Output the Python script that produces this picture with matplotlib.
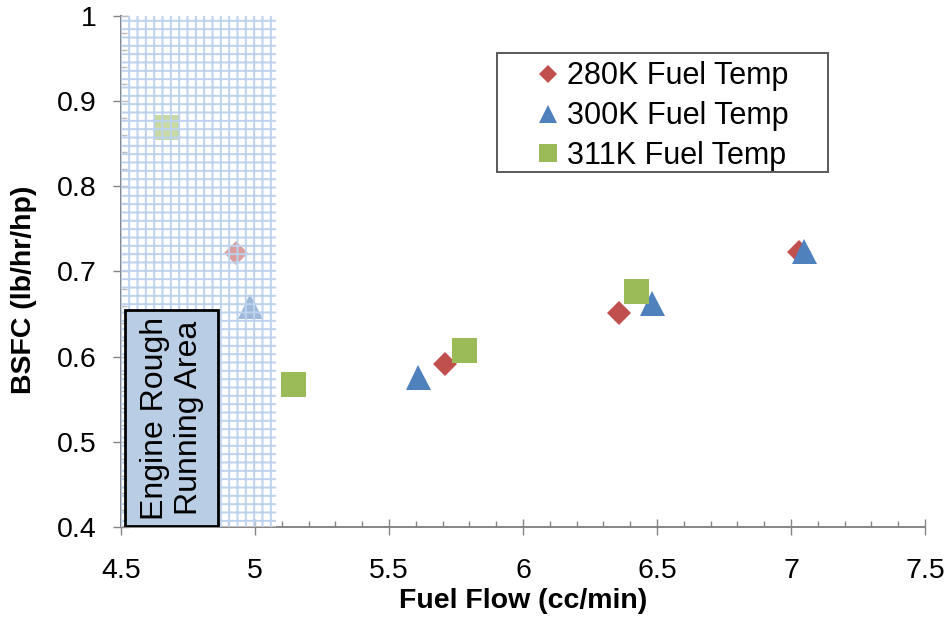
"""
BSFC against fuel flow for three fuel temperatures.
"""

import matplotlib
matplotlib.use("Agg")
import matplotlib.pyplot as plt
from matplotlib.patches import Rectangle
from matplotlib.ticker import MultipleLocator

plt.rcParams["font.family"] = ["Liberation Sans", "DejaVu Sans"]
plt.rcParams["hatch.linewidth"] = 1.4

# fuel flow (cc/min) and BSFC (lb/hr/hp) for each fuel temperature
flow_280 = [4.93, 5.71, 6.36, 7.03]
bsfc_280 = [0.722, 0.591, 0.651, 0.723]
flow_300 = [4.98, 5.61, 6.48, 7.05]
bsfc_300 = [0.660, 0.576, 0.663, 0.724]
flow_311 = [4.67, 5.14, 5.78, 6.42]
bsfc_311 = [0.870, 0.568, 0.608, 0.677]

series_labels = ["280K Fuel Temp", "300K Fuel Temp", "311K Fuel Temp"]

# rough running zone (upper fuel flow limit)
rough_limit = 5.08

red = "#C0504D"
blue = "#4F81BD"
green = "#9BBB59"
axis_gray = "#868686"

fig = plt.figure(figsize=(9.51, 6.19), dpi=100)
ax = fig.add_axes([0.1272, 0.1486, 0.8455, 0.8256])

ax.plot(flow_280, bsfc_280, "D", color=red, markersize=12.5,
        markeredgewidth=0, label=series_labels[0], zorder=3)
ax.plot(flow_300, bsfc_300, "^", color=blue, markersize=18,
        markeredgewidth=0, label=series_labels[1], zorder=3)
ax.plot(flow_311, bsfc_311, "s", color=green, markersize=18,
        markeredgewidth=0, label=series_labels[2], zorder=3)

ax.set_xlim(4.5, 7.5)
ax.set_ylim(0.4, 1.0)

# washed-out grid over the rough running zone
zone = Rectangle((4.5, 0.4), rough_limit - 4.5, 0.6,
                 facecolor=(1, 1, 1, 0.45), edgecolor="#BDD2EE",
                 hatch="++", linewidth=0, zorder=4)
ax.add_patch(zone)

box = Rectangle((4.515, 0.401), 0.347, 0.254, facecolor="#B9CDE5",
                edgecolor="black", linewidth=2, zorder=5)
ax.add_patch(box)
ax.text(4.69, 0.528, "Engine Rough\nRunning Area", rotation=90,
        ha="center", va="center", fontsize=23, linespacing=1.15, zorder=6)

for side in ["top", "right"]:
    ax.spines[side].set_visible(False)
for side in ["left", "bottom"]:
    ax.spines[side].set_color(axis_gray)
    ax.spines[side].set_linewidth(1.4)

ax.xaxis.set_major_locator(MultipleLocator(0.5))
ax.xaxis.set_minor_locator(MultipleLocator(0.1))
ax.yaxis.set_major_locator(MultipleLocator(0.1))
ax.yaxis.set_minor_locator(MultipleLocator(0.02))
ax.xaxis.set_major_formatter(plt.FuncFormatter(lambda v, p: f"{v:g}"))
ax.yaxis.set_major_formatter(plt.FuncFormatter(lambda v, p: f"{v:g}"))

ax.tick_params(which="major", direction="inout", length=11, width=1,
               color=axis_gray, labelsize=20.5)
ax.tick_params(which="minor", direction="in", length=4.5, width=1,
               color=axis_gray)
ax.tick_params(axis="x", which="major", pad=17)
ax.tick_params(axis="y", which="major", pad=12)

ax.set_xlabel("Fuel Flow (cc/min)", fontsize=20.5, fontweight="bold", labelpad=3)
ax.set_ylabel("BSFC (lb/hr/hp)", fontsize=20.5, fontweight="bold")
ax.yaxis.set_label_coords(-0.104, 0.464)

# legend frame drawn on its own so the entries can sit indented inside it
frame = Rectangle((0.4677, 0.6947), 0.4117, 0.2329, transform=ax.transAxes,
                  facecolor="white", edgecolor="#595959", linewidth=1.4,
                  zorder=7)
ax.add_patch(frame)
leg = ax.legend(loc="upper left", bbox_to_anchor=(0.5124, 0.911),
                fontsize=22, frameon=False, borderpad=0, borderaxespad=0,
                handletextpad=0.12, handlelength=1.0, labelspacing=0.32,
                markerscale=0.75)
leg.set_zorder(8)

fig.savefig("out.png", dpi=100)
